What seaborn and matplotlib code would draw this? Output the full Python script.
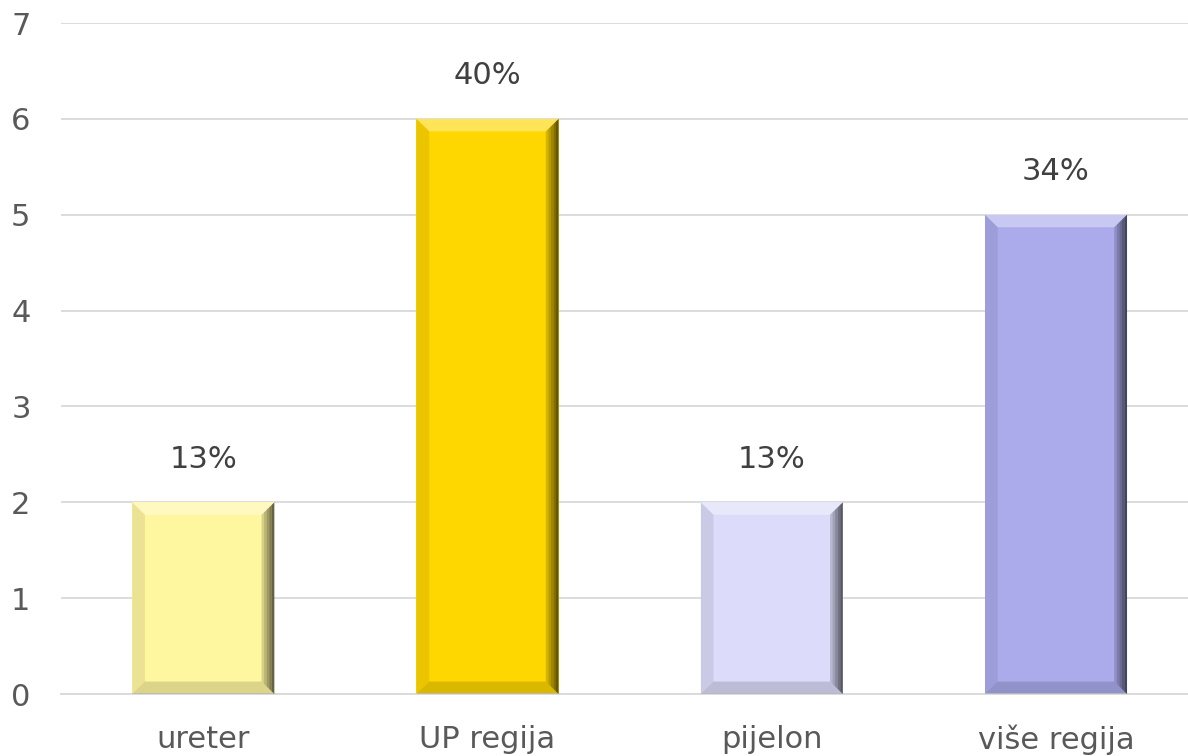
import matplotlib
matplotlib.use("Agg")
import matplotlib.pyplot as plt
from matplotlib.patches import Polygon
import seaborn as sns
import pandas as pd

categories = ["ureter", "UP regija", "pijelon", "više regija"]
counts = [2, 6, 2, 5]
percent_labels = ["13%", "40%", "13%", "34%"]
bar_colors = ["#FFF7A0", "#FFD700", "#DCDCFA", "#ABABEC"]
y_ticks = [0, 1, 2, 3, 4, 5, 6, 7]

sns.set_theme(style="white")
plt.rcParams["font.family"] = ["DejaVu Sans"]

df = pd.DataFrame({"region": categories, "count": counts})

fig = plt.figure(figsize=(11.88, 7.56), dpi=100)
ax = fig.add_axes([0.0515, 0.082, 0.957, 0.8875])

sns.barplot(data=df, x="region", y="count", hue="region", palette=bar_colors,
            width=0.5, legend=False, ax=ax, saturation=1, edgecolor="none", zorder=2)

ax.set_ylim(0, 7)
ax.set_xlim(-0.5, 3.5)
ax.set_yticks(y_ticks)
ax.yaxis.grid(True, color="#D9D9D9", linewidth=1.3, zorder=0)
ax.set_axisbelow(True)
for s in ["top", "right", "left"]:
    ax.spines[s].set_visible(False)
ax.spines["bottom"].set_color("#D9D9D9")
ax.spines["bottom"].set_linewidth(1.3)
ax.tick_params(axis="both", length=0, labelsize=22, labelcolor="#595959")
ax.tick_params(axis="y", pad=36)
ax.tick_params(axis="x", pad=22)
for t in ax.get_yticklabels():
    t.set_horizontalalignment("left")
ax.set_xlabel("")
ax.set_ylabel("")


def bevel(poly, color, alpha):
    ax.add_patch(Polygon(poly, closed=True, facecolor=color, alpha=alpha,
                         edgecolor="none", zorder=3))


# soft bevelled edges on each bar
dx, dy = 0.045, 0.13
n = 5
for bar, lab in zip(ax.patches, percent_labels):
    x0, w, h = bar.get_x(), bar.get_width(), bar.get_height()
    x1 = x0 + w
    bevel([(x0, h), (x1, h), (x1 - dx, h - dy), (x0 + dx, h - dy)], "white", 0.35)
    bevel([(x0, h), (x0 + dx, h - dy), (x0 + dx, dy), (x0, 0)], "black", 0.08)
    bevel([(x0, 0), (x1, 0), (x1 - dx, dy), (x0 + dx, dy)], "black", 0.14)
    # right edge darkens towards the outside
    for i in range(n):
        a = dx * i / n
        b = dx * (i + 1) / n
        ya = dy * i / n
        yb = dy * (i + 1) / n
        bevel([(x1 - a, h - ya), (x1 - a, ya), (x1 - b, yb), (x1 - b, h - yb)],
              "black", 0.55 * (1 - i / n) + 0.05)
    ax.text(x0 + w / 2, h + 0.45, lab, ha="center", va="center",
            fontsize=22, color="#404040", zorder=4)

fig.savefig("out.png", dpi=100, facecolor="white")
